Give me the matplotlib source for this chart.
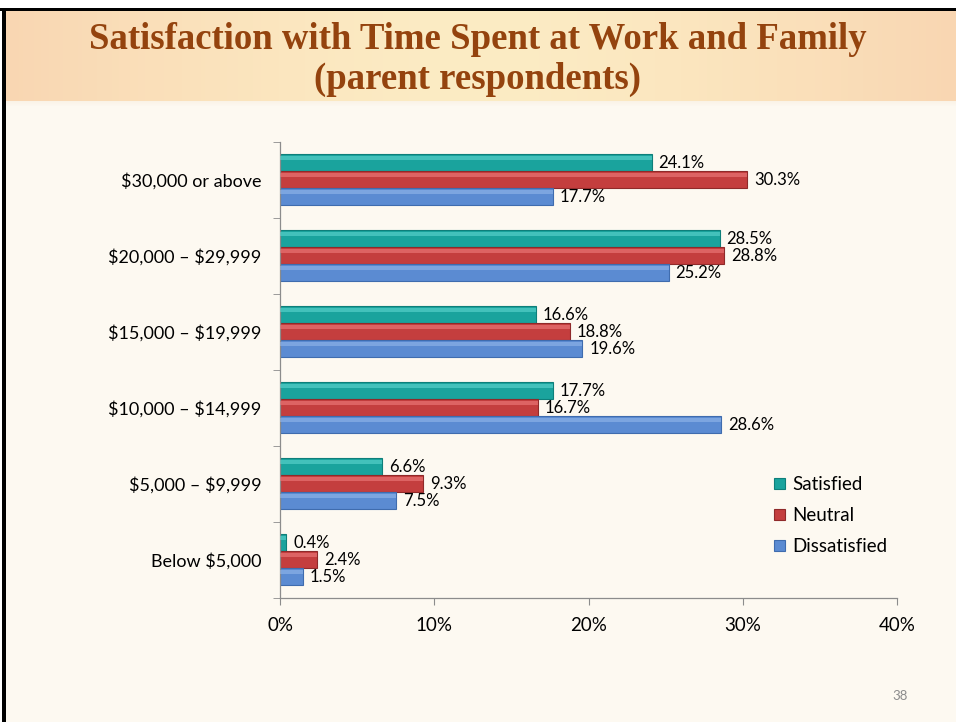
import numpy as np
import matplotlib.pyplot as plt
from matplotlib.patches import Rectangle

categories = ["\\$30,000 or above", "\\$20,000 \u2013 \\$29,999", "\\$15,000 \u2013 \\$19,999",
              "\\$10,000 \u2013 \\$14,999", "\\$5,000 \u2013 \\$9,999", "Below \\$5,000"]
satisfied = [24.1, 28.5, 16.6, 17.7, 6.6, 0.4]
neutral = [30.3, 28.8, 18.8, 16.7, 9.3, 2.4]
dissatisfied = [17.7, 25.2, 19.6, 28.6, 7.5, 1.5]
series_names = ["Satisfied", "Neutral", "Dissatisfied"]
xticks = [0, 10, 20, 30, 40]

W, H = 956, 722
fig = plt.figure(figsize=(W / 100, H / 100), dpi=100)
fig.patch.set_facecolor("white")

# background layer
bg = fig.add_axes([0, 0, 1, 1])
bg.set_xlim(0, W)
bg.set_ylim(H, 0)
bg.axis("off")
bg.add_patch(Rectangle((4, 9), W, H, color="#FDF9F1", zorder=0))
xs = np.linspace(0, 1, 256)
prof = 1 - (np.abs(xs - 0.5) * 2) ** 1.5
c_edge = np.array([249, 214, 178]) / 255
c_mid = np.array([252, 236, 196]) / 255
grad = c_edge[None, :] * (1 - prof[:, None]) + c_mid[None, :] * prof[:, None]
grad = grad[None, :, :]
bg.imshow(grad, extent=(4, W, 101, 9), aspect="auto", zorder=1)
for i, a in enumerate(np.linspace(0.12, 0.0, 6)):
    bg.add_patch(Rectangle((4, 101 + i), W, 1, color="#E9C9A0", alpha=a, lw=0, zorder=1))
bg.add_patch(Rectangle((0, 7.5), W, 3.5, color="black", zorder=3, lw=0))
bg.add_patch(Rectangle((2, 7.5), 4, H, color="black", zorder=3, lw=0))
bg.text(W / 2, 49, "Satisfaction with Time Spent at Work and Family",
        ha="center", va="baseline", fontsize=26.5, fontweight="bold",
        family="Liberation Serif", color="#94430E")
bg.text(W / 2, 89, "(parent respondents)",
        ha="center", va="baseline", fontsize=26.5, fontweight="bold",
        family="Liberation Serif", color="#94430E")
bg.text(900, 696, "38", ha="center", va="center", fontsize=9.5,
        family="Lato", color="#8C8C8C")

# chart
x0, x1 = 280 / W, 897 / W
yt, yb = 141.7 / H, 597.7 / H
ax = fig.add_axes([x0, 1 - yb, x1 - x0, yb - yt])
ax.patch.set_alpha(0)

n = len(categories)
pos = np.arange(n)
h = 0.222
colors = ["#1AA39D", "#C43E3E", "#5B8BD2"]
edges = ["#0E7F7A", "#8F2A2A", "#3F6CAE"]
lights = ["#5FD6D0", "#EE7C7C", "#93B7EA"]
data = [satisfied, neutral, dissatisfied]
offsets = [-h, 0, h]
for vals, off, c, e, lc, name in zip(data, offsets, colors, edges, lights, series_names):
    ypos = pos + off
    ax.barh(ypos, vals, height=h, color=c, edgecolor=e, linewidth=0.8, label=name, zorder=2)
    ax.barh(ypos - h * 0.28, vals, height=h * 0.2, color=lc, linewidth=0, alpha=0.6, zorder=3)
    for y, v in zip(ypos, vals):
        ax.annotate(f"{v:.1f}%", (v, y), xytext=(5, 0), textcoords="offset points",
                    va="center", ha="left", fontsize=12, family="Lato",
                    color="black", zorder=4)

ax.set_xlim(0, 40)
ax.set_ylim(n - 0.5, -0.5)
ax.set_xticks(xticks)
ax.set_xticklabels([f"{t}%" for t in xticks], family="Lato", fontsize=13.5)
ax.set_yticks(pos)
ax.set_yticklabels(categories, family="Lato", fontsize=13)
ax.set_yticks(np.arange(-0.5, n, 1), minor=True)
ax.tick_params(axis="y", which="major", length=0, pad=13.5)
ax.tick_params(axis="y", which="minor", length=5, color="#8C8C8C", direction="out")
ax.tick_params(axis="x", length=5, color="#8C8C8C", pad=9)
for s in ["top", "right"]:
    ax.spines[s].set_visible(False)
for s in ["left", "bottom"]:
    ax.spines[s].set_color("#8C8C8C")
    ax.spines[s].set_linewidth(0.9)

handles = [Rectangle((0, 0), 1, 1, facecolor=c, edgecolor=e, lw=0.8) for c, e in zip(colors, edges)]
leg = ax.legend(handles, series_names, loc="upper left", bbox_to_anchor=(0.774, 0.304),
                frameon=False, prop={"family": "Lato", "size": 13.5},
                handlelength=0.55, handleheight=0.55, handletextpad=0.4, labelspacing=0.75)

fig.savefig("out.png", dpi=100, facecolor=fig.get_facecolor())
